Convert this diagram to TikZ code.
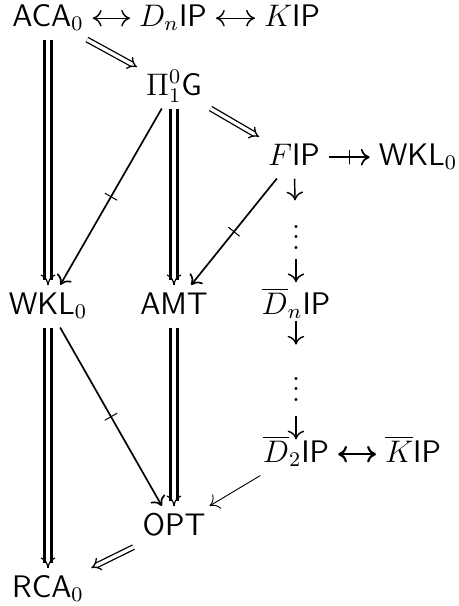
\documentclass[tikz,border=0pt]{standalone}
\usetikzlibrary{arrows.meta}
\begin{document}
\begin{tikzpicture}[x=0.385pt,y=-0.385pt,
  lab/.style={anchor=base, font=\large, text height=9pt, text depth=3pt, inner ysep=2pt, inner xsep=3.3pt},
  dts/.style={anchor=base, font=\large, text height=9.5pt, text depth=0pt, inner sep=2pt},
  one/.style={line width=0.65pt, -{Computer Modern Rightarrow[length=3.4pt,width=6.4pt]}},
  onev/.style={line width=0.55pt, -{Computer Modern Rightarrow[length=3.4pt,width=6.4pt]}},
  lr/.style={line width=0.55pt, {Computer Modern Rightarrow[length=3.4pt,width=6.4pt]}-{Computer Modern Rightarrow[length=3.4pt,width=6.4pt]}},
  lrb/.style={line width=0.85pt, {Computer Modern Rightarrow[length=3.4pt,width=6.4pt]}-{Computer Modern Rightarrow[length=3.4pt,width=6.4pt]}},
  thinarr/.style={line width=0.35pt, -{Computer Modern Rightarrow[length=3.4pt,width=6.4pt]}},
  two/.style={double, double distance=1.3pt, line width=0.5pt, -{Implies}},
  three/.style={double, double distance=1.5pt, line width=1.1pt, shorten >=2pt},
  vtip/.style={line width=0.45pt, -{Computer Modern Rightarrow[length=4pt,width=5.6pt,line width=0.45pt]}},
  tick/.style={sloped, draw, line width=0.4pt, inner sep=0pt, minimum width=0pt, minimum height=5.5pt, text height=0pt, text depth=0pt, anchor=center}]
\useasboundingbox (0,0) rectangle (459,606);

\node[lab] (aca) at (48,26) {$\mathsf{ACA}_0$};
\node[lab] (dn)  at (173,26) {$D_n\mathsf{IP}$};
\node[lab] (k)   at (292,26) {$K\mathsf{IP}$};
\node[lab] (pi)  at (174,95) {$\Pi^0_1\mathsf{G}$};
\node[lab] (f)   at (294,165) {$F\mathsf{IP}$};
\node[lab] (wklr) at (418,165) {$\mathsf{WKL}_0$};
\node[dts] (vd1) at (296,249) {$\vdots$};
\node[lab] (wkl) at (48,314) {$\mathsf{WKL}_0$};
\node[lab] (amt) at (174,314) {$\mathsf{AMT}$};
\node[lab] (dnb) at (296,314) {$\overline{D}_n\mathsf{IP}$};
\node[dts] (vd2) at (296,401) {$\vdots$};
\node[lab] (d2)  at (296,462) {$\overline{D}_2\mathsf{IP}$};
\node[lab] (kb)  at (413,462) {$\overline{K}\mathsf{IP}$};
\node[lab] (opt) at (174,535) {$\mathsf{OPT}$};
\node[lab] (rca) at (48,597) {$\mathsf{RCA}_0$};

\draw[lr] (aca) -- (dn);
\draw[lr] (dn) -- (k);
\draw[two] (aca) -- (pi);
\draw[two] (pi) -- (f);
\draw[three] (aca) -- (wkl);
\draw[vtip] ([yshift=0.3pt]wkl.north) -- (wkl.north);
\draw[three] (pi) -- (amt);
\draw[vtip] ([yshift=0.3pt]amt.north) -- (amt.north);
\draw[three] (wkl) -- (rca);
\draw[vtip] ([yshift=0.3pt]rca.north) -- (rca.north);
\draw[three] (amt) -- (opt);
\draw[vtip] ([yshift=0.3pt]opt.north) -- (opt.north);
\draw[two] (opt) -- (rca);
\draw[one] (pi) -- node[tick]{} (wkl);
\draw[one] (f) -- node[tick]{} (amt);
\draw[one] (wkl) -- node[tick]{} (opt);
\draw[one] (f) -- node[tick]{} (wklr);
\draw[thinarr] (d2) -- (opt);
\draw[lrb] (d2) -- (kb);
\draw[onev, shorten >=7pt] (f) -- (vd1);
\draw[onev, shorten <=1.5pt, shorten >=1pt] (vd1) -- (dnb);
\draw[onev, shorten <=-2.7pt, shorten >=10pt] (dnb) -- (vd2);
\draw[onev, shorten <=3.5pt, shorten >=-2.5pt] (vd2) -- (d2);
\end{tikzpicture}
\end{document}
